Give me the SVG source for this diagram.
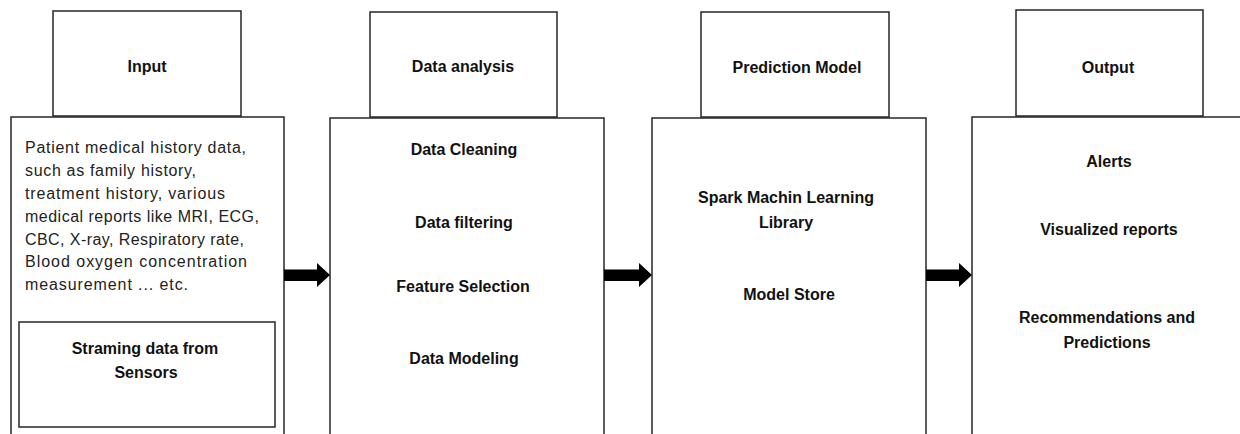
<svg xmlns="http://www.w3.org/2000/svg" width="1240" height="434" viewBox="0 0 1240 434">
  <style>
    .box { fill: #fff; stroke: #262626; stroke-width: 1.5; }
    .h { font-family: "Liberation Sans", Arial, sans-serif; font-weight: bold; font-size: 16px; fill: #111; text-anchor: middle; }
    .b { font-family: "Liberation Sans", Arial, sans-serif; font-size: 16px; fill: #222; }
    .arrow { fill: #000; }
  </style>
  <rect width="1240" height="434" fill="#fff"/>

  <g id="input">
    <rect class="box" x="53" y="11" width="188" height="105"/>
    <text class="h" x="147" y="72">Input</text>
    <rect class="box" x="11" y="117" width="273" height="330"/>
    <text class="b" x="25" y="153" textLength="221" lengthAdjust="spacing">Patient medical history data,</text>
    <text class="b" x="25" y="176" textLength="171" lengthAdjust="spacing">such as family history,</text>
    <text class="b" x="25" y="199" textLength="200" lengthAdjust="spacing">treatment history, various</text>
    <text class="b" x="25" y="222" textLength="234" lengthAdjust="spacing">medical reports like MRI, ECG,</text>
    <text class="b" x="25" y="245" textLength="219" lengthAdjust="spacing">CBC, X-ray, Respiratory rate,</text>
    <text class="b" x="25" y="267" textLength="222" lengthAdjust="spacing">Blood oxygen concentration</text>
    <text class="b" x="25" y="290" textLength="163" lengthAdjust="spacing">measurement ... etc.</text>
  </g>

  <g id="sensors">
    <rect class="box" x="19" y="322" width="256" height="105"/>
    <text class="h" x="145" y="354">Straming data from</text>
    <text class="h" x="146" y="378">Sensors</text>
  </g>

  <g id="data-analysis">
    <rect class="box" x="370" y="12" width="187" height="105"/>
    <text class="h" x="463" y="72">Data analysis</text>
    <rect class="box" x="330" y="118" width="274" height="330"/>
    <text class="h" x="464" y="155">Data Cleaning</text>
    <text class="h" x="464" y="228">Data filtering</text>
    <text class="h" x="463" y="292">Feature Selection</text>
    <text class="h" x="464" y="364">Data Modeling</text>
  </g>

  <g id="prediction-model">
    <rect class="box" x="701" y="12" width="188" height="105"/>
    <text class="h" x="797" y="73">Prediction Model</text>
    <rect class="box" x="652" y="118" width="274" height="330"/>
    <text class="h" x="786" y="203">Spark Machin Learning</text>
    <text class="h" x="786" y="228">Library</text>
    <text class="h" x="789" y="300">Model Store</text>
  </g>

  <g id="output">
    <rect class="box" x="1016" y="10" width="187" height="106"/>
    <text class="h" x="1108" y="73">Output</text>
    <rect class="box" x="972" y="117" width="300" height="330"/>
    <text class="h" x="1109" y="167">Alerts</text>
    <text class="h" x="1109" y="235">Visualized reports</text>
    <text class="h" x="1107" y="323">Recommendations and</text>
    <text class="h" x="1107" y="348">Predictions</text>
  </g>

  <g id="connectors">
    <polygon class="arrow" points="284,269.5 317,269.5 317,263 330,275 317,287 317,281 284,281"/>
    <polygon class="arrow" points="604,269.5 639,269.5 639,263 652,275 639,287 639,281 604,281"/>
    <polygon class="arrow" points="926,269.5 959,269.5 959,263 972,275 959,287 959,281 926,281"/>
  </g>
</svg>
